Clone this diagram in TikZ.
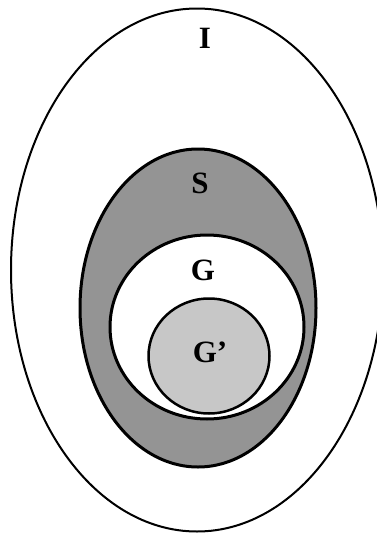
\documentclass[tikz,border=0pt]{standalone}
\usepackage{fontspec}
\setmainfont{Liberation Serif}
\usetikzlibrary{shapes.geometric}
\begin{document}
\begin{tikzpicture}[x=1pt,y=-1pt,
  region/.style={ellipse,draw=black,inner sep=0pt,outer sep=0pt},
  lbl/.style={font=\fontsize{31}{33}\selectfont\bfseries,inner sep=0pt}]
\useasboundingbox (0,0) rectangle (377,541);
\node[region,line width=2pt,minimum width=372pt,minimum height=523pt] (Iset) at (197,270) {};
\node[region,line width=3pt,fill=black!42,minimum width=236pt,minimum height=318pt] (Sset) at (198,308) {};
\node[region,line width=3pt,fill=white,minimum width=194pt,minimum height=184pt] (Gset) at (207,327) {};
\node[region,line width=2.5pt,fill=black!22,minimum width=121pt,minimum height=115pt] (Gpset) at (209,356) {};
\node[lbl] (Ilab) at (205,38) {I};
\node[lbl] (Slab) at (200,183) {S};
\node[lbl] (Glab) at (203,270) {G};
\node[lbl] (Gplab) at (210,352) {G’};
\end{tikzpicture}
\end{document}
